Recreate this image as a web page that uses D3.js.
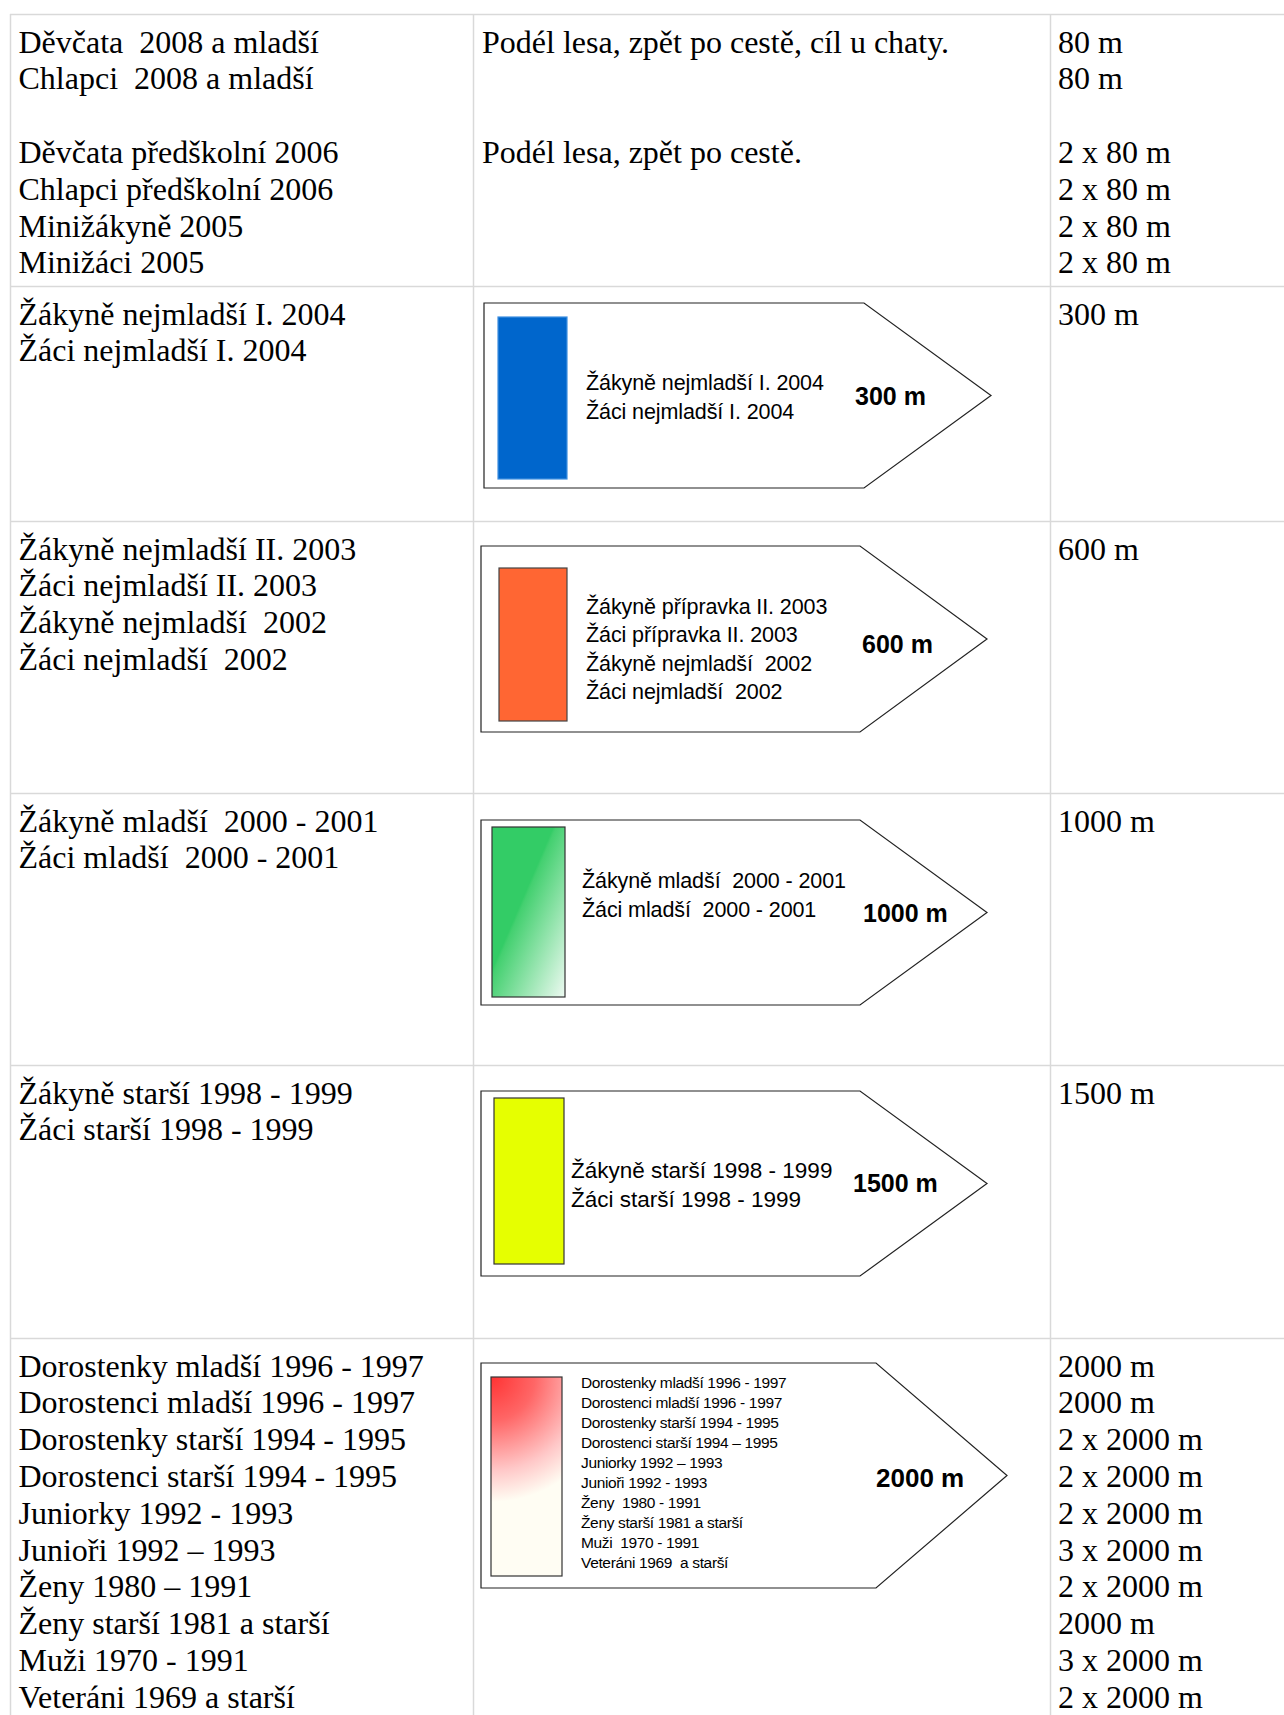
<!DOCTYPE html>
<html>
<head>
<meta charset="utf-8">
<script src="https://cdn.jsdelivr.net/npm/d3@7/dist/d3.min.js"></script>
<style>
  html, body { margin: 0; padding: 0; background: #fff; }
  svg { display: block; }
  text { white-space: pre; }
</style>
</head>
<body>
<svg id="chart" width="1284" height="1715"></svg>
<script>
// ---------------- DATA ----------------
const categoryLines = [
  ["Děvčata  2008 a mladší", "Chlapci  2008 a mladší", "", "Děvčata předškolní 2006", "Chlapci předškolní 2006", "Minižákyně 2005", "Minižáci 2005"],
  ["Žákyně nejmladší I. 2004", "Žáci nejmladší I. 2004"],
  ["Žákyně nejmladší II. 2003", "Žáci nejmladší II. 2003", "Žákyně nejmladší  2002", "Žáci nejmladší  2002"],
  ["Žákyně mladší  2000 - 2001", "Žáci mladší  2000 - 2001"],
  ["Žákyně starší 1998 - 1999", "Žáci starší 1998 - 1999"],
  ["Dorostenky mladší 1996 - 1997", "Dorostenci mladší 1996 - 1997", "Dorostenky starší 1994 - 1995", "Dorostenci starší 1994 - 1995", "Juniorky 1992 - 1993", "Junioři 1992 – 1993", "Ženy 1980 – 1991", "Ženy starší 1981 a starší", "Muži 1970 - 1991", "Veteráni 1969 a starší"]
];
const routeLines = [
  ["Podél lesa, zpět po cestě, cíl u chaty.", "", "", "Podél lesa, zpět po cestě."],
  [], [], [], [], []
];
const distanceLines = [
  ["80 m", "80 m", "", "2 x 80 m", "2 x 80 m", "2 x 80 m", "2 x 80 m"],
  ["300 m"],
  ["600 m"],
  ["1000 m"],
  ["1500 m"],
  ["2000 m", "2000 m", "2 x 2000 m", "2 x 2000 m", "2 x 2000 m", "3 x 2000 m", "2 x 2000 m", "2000 m", "3 x 2000 m", "2 x 2000 m"]
];
// signposts (rows 2..6)
const signRow = [1, 2, 3, 4, 5];
const signDistance = ["300 m", "600 m", "1000 m", "1500 m", "2000 m"];
const signLabels = [
  ["Žákyně nejmladší I. 2004", "Žáci nejmladší I. 2004"],
  ["Žákyně přípravka II. 2003", "Žáci přípravka II. 2003", "Žákyně nejmladší  2002", "Žáci nejmladší  2002"],
  ["Žákyně mladší  2000 - 2001", "Žáci mladší  2000 - 2001"],
  ["Žákyně starší 1998 - 1999", "Žáci starší 1998 - 1999"],
  ["Dorostenky mladší 1996 - 1997", "Dorostenci mladší 1996 - 1997", "Dorostenky starší 1994 - 1995", "Dorostenci starší 1994 – 1995", "Juniorky 1992 – 1993", "Junioři 1992 - 1993", "Ženy  1980 - 1991", "Ženy starší 1981 a starší", "Muži  1970 - 1991", "Veteráni 1969  a starší"]
];
const signColor = ["blue", "orange", "green", "yellow", "red"];

// ---------------- LAYOUT ----------------
const W = 1284, H = 1715;
const rowEdges = [14, 286, 521, 793, 1065, 1338, 1715];
const colEdges = [10, 473, 1050, 1290];
const grid = "#d9d9d9";
// sign geometry: [left, top, bodyRight, tipX, bottom, barX0, barY0, barX1, barY1, textX, textY0, textStep, textSize, distX, distY, distSize, letterSpacing]
const signGeom = [
  [484, 303, 864, 991, 488, 498, 317, 567, 479, 586, 390, 28.5, 21.5, 855, 405, 25, -0.1],
  [481, 546, 860, 987, 732, 499, 568, 567, 721, 586, 614, 28.3, 21.5, 862, 653, 25, -0.1],
  [481, 820, 860, 987, 1005, 492, 827, 565, 997, 582, 888, 28.5, 21.5, 863, 922, 25, -0.1],
  [481, 1091, 860, 987, 1276, 494, 1098, 564, 1264, 571, 1178, 28.5, 22.5, 853, 1192, 25, 0],
  [481, 1363, 876, 1007, 1588, 491, 1377, 562, 1576, 581, 1388, 20, 15.5, 876, 1487, 26, -0.35]
];

const svg = d3.select("#chart");
const defs = svg.append("defs");

// gradients
const gGreen = defs.append("linearGradient").attr("id", "green").attr("x1", 0).attr("y1", 0).attr("x2", 1).attr("y2", 1);
gGreen.append("stop").attr("offset", "0").attr("stop-color", "#33cc66");
gGreen.append("stop").attr("offset", "0.42").attr("stop-color", "#33cc66");
gGreen.append("stop").attr("offset", "0.44").attr("stop-color", "#44d070");
gGreen.append("stop").attr("offset", "1").attr("stop-color", "#eefaf2");

const gRed = defs.append("radialGradient").attr("id", "red")
  .attr("gradientUnits", "userSpaceOnUse")
  .attr("cx", signGeom[4][5]).attr("cy", signGeom[4][6])
  .attr("fx", signGeom[4][5]).attr("fy", signGeom[4][6])
  .attr("r", 125);
gRed.append("stop").attr("offset", "0").attr("stop-color", "#ff3333");
gRed.append("stop").attr("offset", "0.35").attr("stop-color", "#ff6666");
gRed.append("stop").attr("offset", "0.75").attr("stop-color", "#ffc8c8");
gRed.append("stop").attr("offset", "1").attr("stop-color", "#fffdf3");

const fills = { blue: "#0066cc", orange: "#ff6633", green: "url(#green)", yellow: "#e6ff00", red: "url(#red)" };
const strokes = { blue: "#3f8fe0", orange: "#444", green: "#333", yellow: "#333", red: "#333" };

// scales
const rowScale = d3.scaleOrdinal().domain(d3.range(6)).range(rowEdges.slice(0, 6));
const lineScale = d3.scaleLinear().domain([0, 1]).range([38.5, 38.5 + 36.8]);
const colScale = d3.scaleOrdinal().domain([0, 1, 2]).range([18.5, 482, 1058]);

// grid
svg.append("g").selectAll("line.h").data(rowEdges.slice(0, 6)).join("line")
  .attr("x1", colEdges[0]).attr("x2", W).attr("y1", d => d + 0.5).attr("y2", d => d + 0.5)
  .attr("stroke", grid).attr("stroke-width", 1.5);
svg.append("g").selectAll("line.v").data(colEdges.slice(0, 3)).join("line")
  .attr("x1", d => d + 0.5).attr("x2", d => d + 0.5).attr("y1", rowEdges[0]).attr("y2", H)
  .attr("stroke", grid).attr("stroke-width", 1.5);

// table text
const columns = [categoryLines, routeLines, distanceLines];
columns.forEach((col, ci) => {
  col.forEach((lines, ri) => {
    svg.append("g").selectAll("text").data(lines).join("text")
      .attr("x", colScale(ci))
      .attr("y", (d, i) => rowScale(ri) + lineScale(i))
      .attr("font-family", "'Liberation Serif', 'Times New Roman', serif")
      .attr("font-size", 32)
      .attr("fill", "#000")
      .text(d => d);
  });
});

// signposts
signRow.forEach((r, si) => {
  const [L, T, BR, TX, B, bx0, by0, bx1, by1, tx, ty0, tstep, tsize, dx, dy, dsize, ls] = signGeom[si];
  const g = svg.append("g");
  const my = (T + B) / 2;
  g.append("path")
    .attr("d", d3.line()([[L, T], [BR, T], [TX, my], [BR, B], [L, B]]) + "Z")
    .attr("fill", "#fff").attr("stroke", "#222").attr("stroke-width", 1.2);
  g.append("rect")
    .attr("x", bx0).attr("y", by0).attr("width", bx1 - bx0).attr("height", by1 - by0)
    .attr("fill", fills[signColor[si]]).attr("stroke", strokes[signColor[si]]).attr("stroke-width", 1.2);
  const ly = d3.scaleLinear().domain([0, 1]).range([ty0, ty0 + tstep]);
  g.selectAll("text.lbl").data(signLabels[si]).join("text")
    .attr("x", tx).attr("y", (d, i) => ly(i))
    .attr("font-family", "'Liberation Sans', Arial, sans-serif")
    .attr("font-size", tsize)
    .attr("letter-spacing", ls)
    .attr("fill", "#000")
    .text(d => d);
  g.append("text")
    .attr("x", dx).attr("y", dy)
    .attr("font-family", "'Liberation Sans', Arial, sans-serif")
    .attr("font-weight", "bold")
    .attr("font-size", dsize)
    .attr("fill", "#000")
    .text(signDistance[si]);
});
</script>
</body>
</html>
